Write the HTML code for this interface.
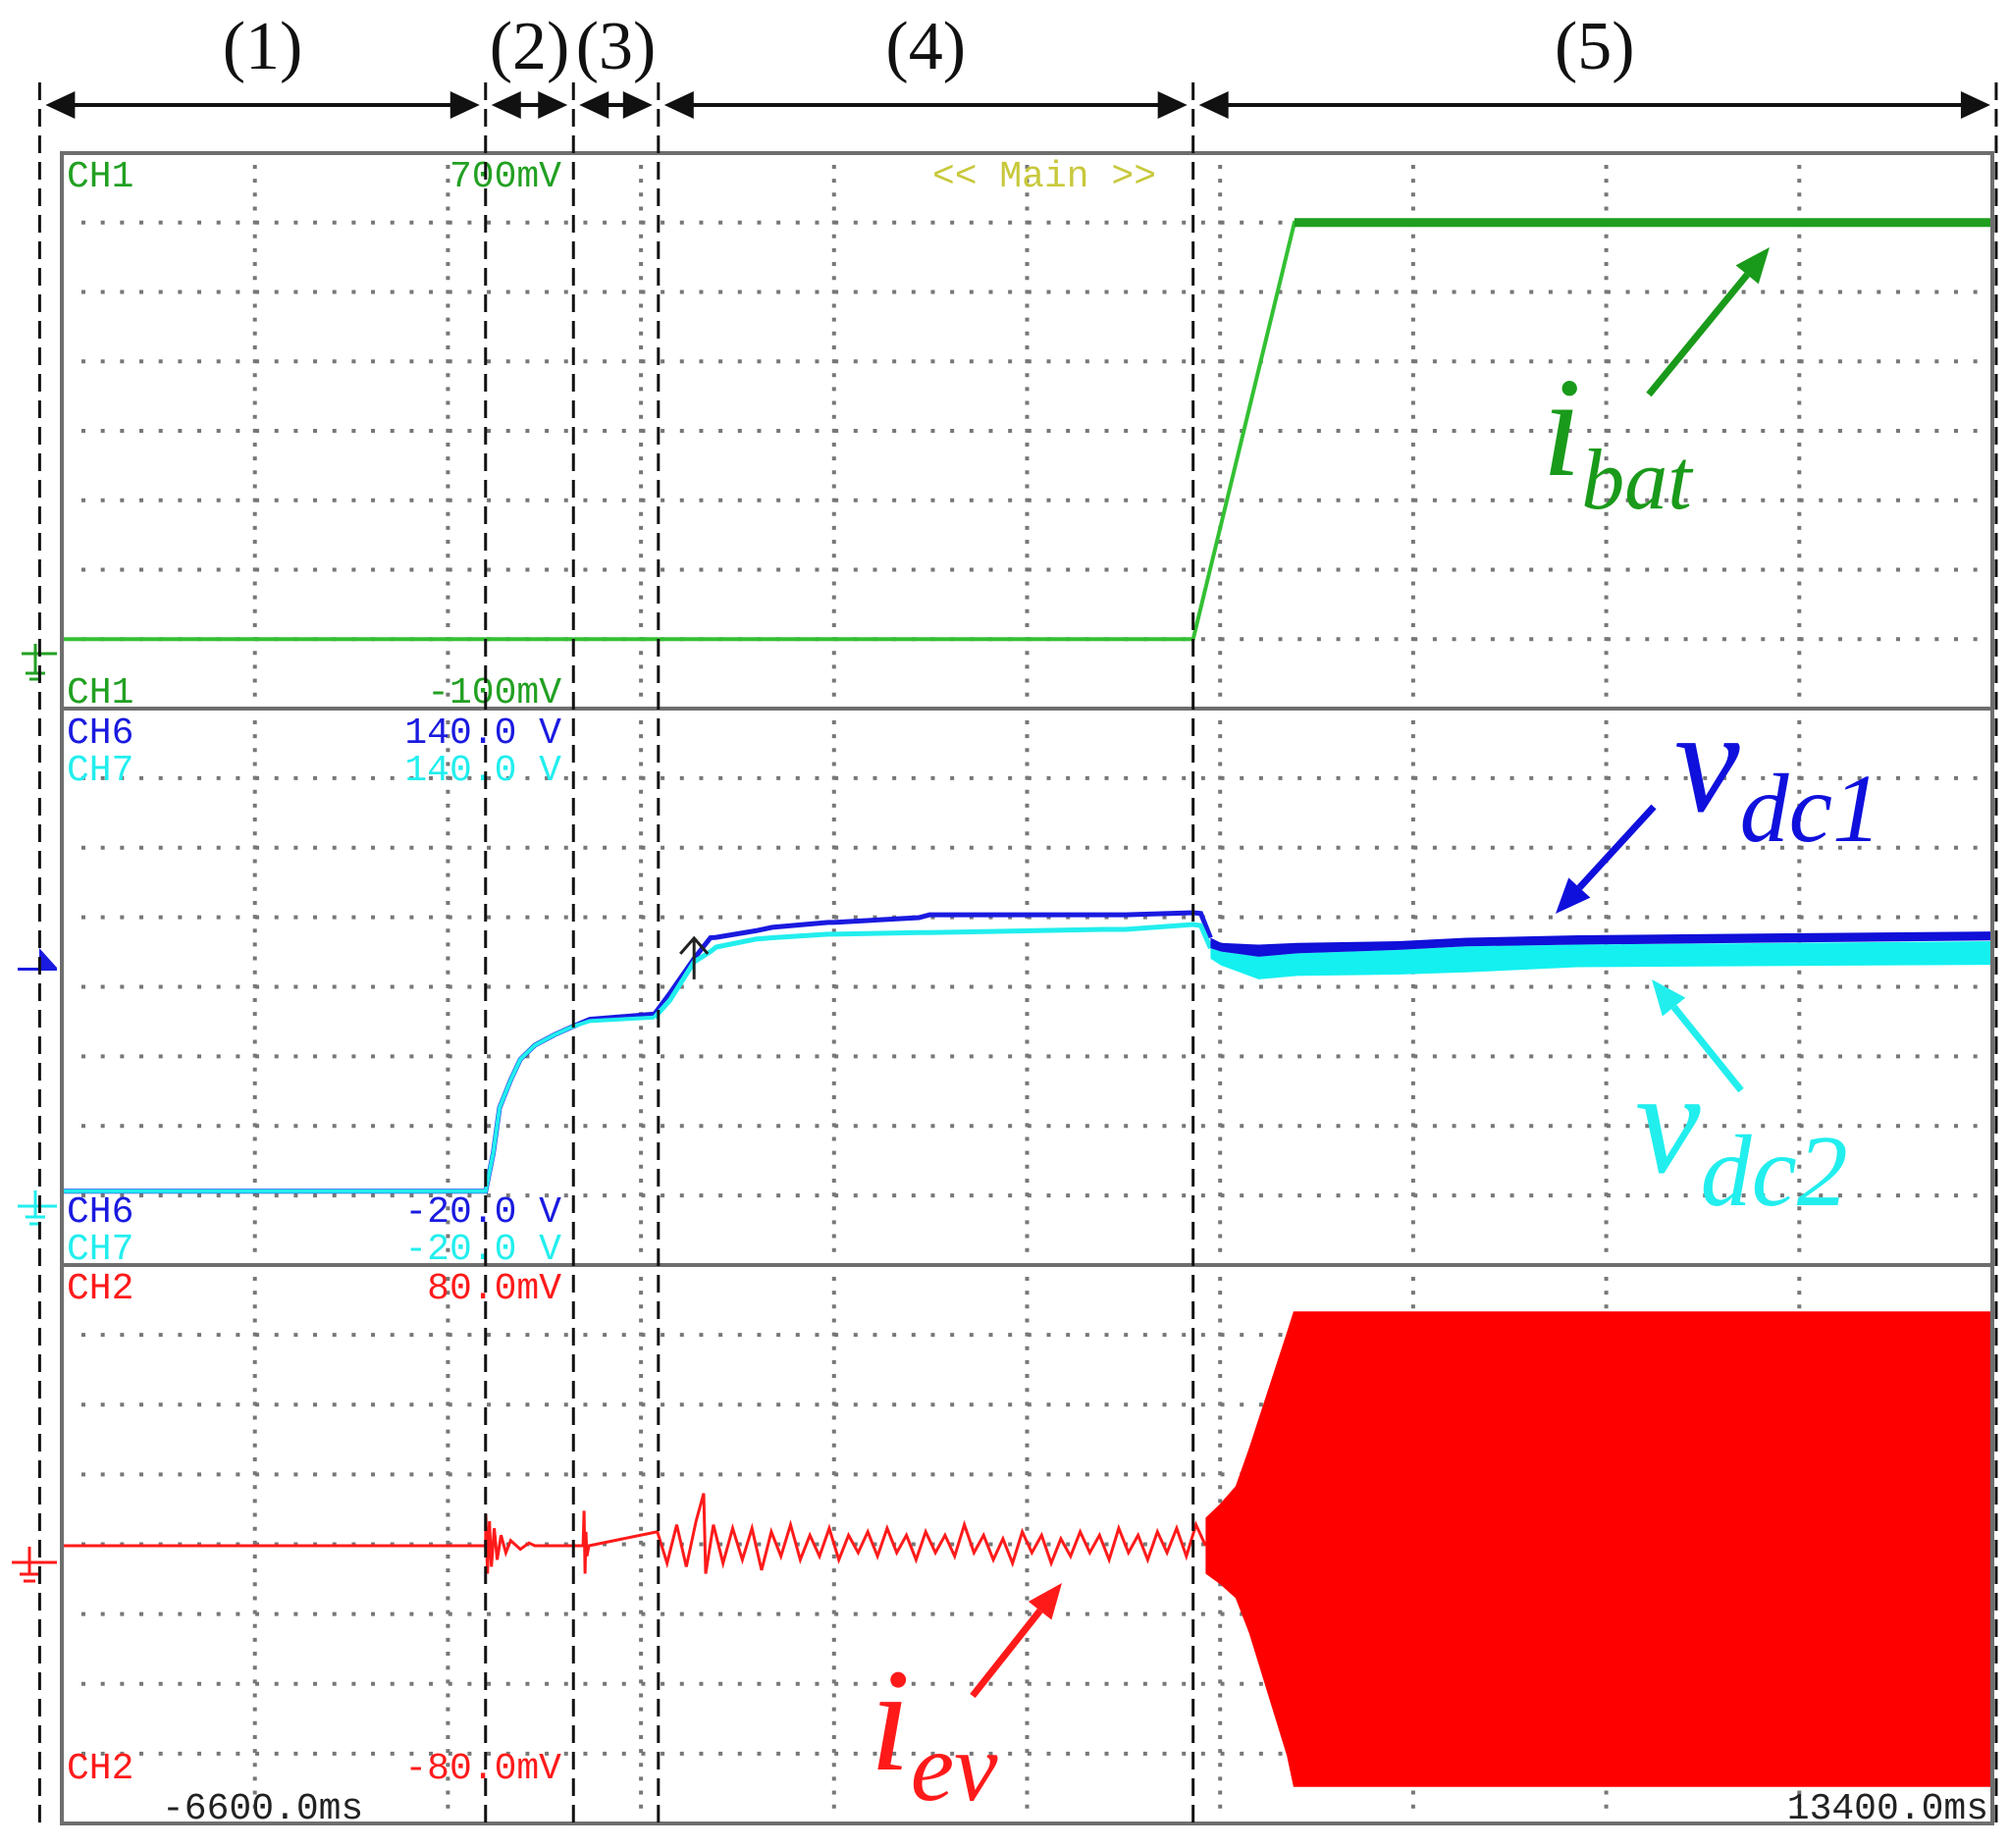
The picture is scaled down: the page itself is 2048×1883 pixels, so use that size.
<!DOCTYPE html>
<html><head><meta charset="utf-8">
<style>
html,body{margin:0;padding:0;background:#fff;}
svg{display:block;}
.mono{font-family:"Liberation Mono",monospace;font-size:38px;}
.lbl{font-family:"Liberation Serif",serif;font-size:70px;fill:#111;}
.it{font-family:"Liberation Serif",serif;font-style:italic;}
</style></head>
<body>
<svg id="chart" width="2048" height="1883" viewBox="0 0 2048 1883" xmlns="http://www.w3.org/2000/svg">
<g id="grid"></g>
<g id="traces"></g>
<g id="frame">
  <rect x="63" y="156" width="1967" height="1702" fill="none" stroke="#6e6e6e" stroke-width="4"/>
  <line x1="63" y1="722" x2="2030" y2="722" stroke="#6e6e6e" stroke-width="4"/>
  <line x1="63" y1="1289" x2="2030" y2="1289" stroke="#6e6e6e" stroke-width="4"/>
</g>
<g id="texts">
  <text class="mono" x="68" y="190" fill="#22a022">CH1</text>
  <text class="mono" x="572" y="190" fill="#22a022" text-anchor="end">700mV</text>
  <text class="mono" x="1064" y="190" fill="#c8c83c" text-anchor="middle">&lt;&lt; Main &gt;&gt;</text>
  <text class="mono" x="68" y="716" fill="#22a022">CH1</text>
  <text class="mono" x="572" y="716" fill="#22a022" text-anchor="end">-100mV</text>
  <text class="mono" x="68" y="757" fill="#1a1ae0">CH6</text>
  <text class="mono" x="572" y="757" fill="#1a1ae0" text-anchor="end">140.0 V</text>
  <text class="mono" x="68" y="795" fill="#22eeee">CH7</text>
  <text class="mono" x="572" y="795" fill="#22eeee" text-anchor="end">140.0 V</text>
  <text class="mono" x="68" y="1245" fill="#1a1ae0">CH6</text>
  <text class="mono" x="572" y="1245" fill="#1a1ae0" text-anchor="end">-20.0 V</text>
  <text class="mono" x="68" y="1283" fill="#22eeee">CH7</text>
  <text class="mono" x="572" y="1283" fill="#22eeee" text-anchor="end">-20.0 V</text>
  <text class="mono" x="68" y="1323" fill="#ff1a1a">CH2</text>
  <text class="mono" x="572" y="1323" fill="#ff1a1a" text-anchor="end">80.0mV</text>
  <text class="mono" x="68" y="1812" fill="#ff1a1a">CH2</text>
  <text class="mono" x="572" y="1812" fill="#ff1a1a" text-anchor="end">-80.0mV</text>
  <text class="mono" x="165" y="1853" fill="#222">-6600.0ms</text>
  <text class="mono" x="2026" y="1853" fill="#222" text-anchor="end">13400.0ms</text>
</g>
<g id="markers">
  <g stroke="#22a022" stroke-width="3"><line x1="22" y1="666" x2="58" y2="666"/><line x1="36" y1="656" x2="36" y2="686"/><line x1="26" y1="686" x2="46" y2="686"/><line x1="30" y1="692" x2="42" y2="692"/></g>
  <polygon points="18,989 58,989 58,986 40,966 40,986 18,986" fill="#1a1ae0"/>
  <g stroke="#22eeee" stroke-width="3"><line x1="18" y1="1229" x2="58" y2="1229"/><line x1="36" y1="1213" x2="36" y2="1240"/><line x1="26" y1="1240" x2="46" y2="1240"/><line x1="30" y1="1247" x2="42" y2="1247"/></g>
  <g stroke="#ff1a1a" stroke-width="3"><line x1="12" y1="1592" x2="58" y2="1592"/><line x1="30" y1="1576" x2="30" y2="1604"/><line x1="20" y1="1604" x2="40" y2="1604"/><line x1="24" y1="1611" x2="36" y2="1611"/></g>
</g>
<g id="phases"></g>
<g id="annot">
  <text class="it" x="1571" y="484" font-size="145" fill="#1a9a1a">i<tspan font-size="88" dy="34">bat</tspan></text>
  <text class="it" x="1706" y="826" font-size="150" fill="#1010dd">v<tspan font-size="100" dy="31">dc1</tspan></text>
  <text class="it" x="1666" y="1194" font-size="150" fill="#22eeee">v<tspan font-size="104" dy="34">dc2</tspan></text>
  <text class="it" x="886" y="1803" font-size="150" fill="#ff1a1a">i<tspan font-size="100" dy="31">ev</tspan></text>
</g>
</svg>
<script>
// ---- data ----
const tMin = -6600, tMax = 13400;
const gridCols = 10;
const ibatT = [-6600, 5120, 6170, 13400];
const ibatV = [0, 0, 600, 600];
const lineT = [-6600,-2210,-2130,-2065,-1950,-1850,-1700,-1500,-1300,-1130,-460,-300,-50,120,180,590,760,1340,1400,2280,2390,4190,4420,5120,5200,5300];
const vdc2 = [1,1,12,25,33,39,43,46,48.5,50,51,56,67,70,71.3,73.6,74,75,75,75.5,75.5,76.4,76.4,77.8,77.5,71];
const vdc1 = [1,1,12,25,33,39,43,46,48.5,50.5,52,58,68,74,74.1,76,77,78.4,78.4,79.8,80.6,80.6,80.6,81.2,81,74];
const bandT = [5300,5410,5800,6200,7250,7950,9100,13400];
const vdc1Top = [74,72.5,72,72.5,73,74,74.7,75.8];
const vdc1Bot = [71,70,68.5,69.5,70.5,71.5,72,73.2];
const vdc2Top = [71,70,68.5,69.5,70.5,71.5,72,73];
const vdc2Bot = [68,66,62,63,63.4,64,65.5,66.2];
const redT = [5250,5400,5560,5700,6090,6160,13400];
const redTop = [8,12,17,28,61,67,67];
const redBot = [-8,-11,-15,-25,-60,-69,-69];
const noiseT = [-6600,-2210,-2208,-2190,-2170,-2150,-2120,-2090,-2050,-2000,-1950,-1850,-1760,-1700,-1200,-1190,-1180,-1170,-1160,-1140,-430,-330,-230,-130,-30,50,70,150,250,350,450,550,650,750,850,950,1050,1150,1250,1350,1450,1550,1650,1750,1850,1950,2050,2150,2250,2350,2450,2550,2650,2750,2850,2950,3050,3150,3250,3350,3450,3550,3650,3750,3850,3950,4050,4150,4250,4350,4450,4550,4650,4750,4850,4950,5050,5150,5250];
const noiseV = [0,0,9,-8,7,-6,5,-4,3,-2,1.5,-1,0.8,0,0,10,-8,4,-3,0,4,-5,6,-6,7,15,-8,6,-5,5,-4,5,-7,4,-3,6,-4,3,-3,5,-4,3,-2,4,-3,5,-2,3,-4,4,-2,3,-3,6,-2,3,-4,2,-5,4,-2,3,-5,2,-3,4,-2,3,-4,5,-2,3,-4,4,-2,5,-3,6,0];
const phaseT = [-6830, -2210, -1300, -420, 5120, 13440];
const phaseNames = ["(1)","(2)","(3)","(4)","(5)"];
// ---- axes ----
const X0 = 63, W = 1967;
const x = t => X0 + (t - tMin) / (tMax - tMin) * W;
const y1 = v => 156 + (700 - v) / 800 * 566;
const y2 = v => 722 + (140 - v) / 160 * 566;
const y3 = v => 1290 + (80 - v) / 160 * 570;
const NS = "http://www.w3.org/2000/svg";
function mk(tag, attrs, parent){const e=document.createElementNS(NS,tag);for(const k in attrs)e.setAttribute(k,attrs[k]);parent.appendChild(e);return e;}
const grid = document.getElementById('grid');
const panels = [[156,722],[722,1289],[1289,1858]];
for (const [top,bot] of panels){
  const dy=(bot-top)/8;
  for(let i=1;i<8;i++){
    const l=mk('line',{x1:X0+20,x2:X0+W-10,y1:top+i*dy,y2:top+i*dy,stroke:'#777','stroke-width':4,'stroke-dasharray':'4 15.67'},grid);
    
    
  }
  for(let j=1;j<gridCols;j++){
    const gx=X0+j*W/gridCols;
    const l=mk('line',{x1:gx,x2:gx,y1:top+12,y2:bot-6,stroke:'#777','stroke-width':4,'stroke-dasharray':'4 10.15'},grid);
    
    
  }
}
const tr = document.getElementById('traces');
const pts=(T,V,fy)=>T.map((t,i)=>x(t).toFixed(1)+','+fy(V[i]).toFixed(1)).join(' ');
let e=mk('polyline',{points:pts(ibatT,ibatV,y1),fill:'none',stroke:'#33c033','stroke-width':4},tr);


e=mk('line',{x1:x(ibatT[2]),x2:x(ibatT[3]),y1:y1(ibatV[2]),y2:y1(ibatV[3]),stroke:'#1f9e1f','stroke-width':9},tr);


e=mk('polyline',{points:pts(lineT,vdc1,y2),fill:'none',stroke:'#1a1ae0','stroke-width':5},tr);


e=mk('polyline',{points:pts(lineT.slice(0,11),vdc2.slice(0,11),y2),fill:'none',stroke:'#22eeee','stroke-width':4},tr);


e=mk('polyline',{points:pts(lineT.slice(10),vdc2.slice(10),y2),fill:'none',stroke:'#22eeee','stroke-width':5},tr);


const band=(T,top,bot,fy)=>pts(T,top,fy)+' '+pts(T.slice().reverse(),bot.slice().reverse(),fy);
e=mk('polygon',{points:band(bandT,vdc2Top,vdc2Bot,y2),fill:'#14f0f0'},tr);


e=mk('polygon',{points:band(bandT,vdc1Top,vdc1Bot,y2),fill:'#1010d8'},tr);


const cx=x(-50), cy=y2(62);
e=mk('path',{d:'M'+cx+' '+cy+' l0 -42 M'+(cx-14)+' '+(cy-26)+' l14 -16 l14 16',fill:'none',stroke:'#222','stroke-width':3},tr);


e=mk('polyline',{points:pts(noiseT,noiseV,y3),fill:'none',stroke:'#ff1a1a','stroke-width':3},tr);


e=mk('polygon',{points:band(redT,redTop,redBot,y3),fill:'#ff0000'},tr);


const ph=document.getElementById('phases');
for(let i=0;i<phaseT.length;i++){
  const px=x(phaseT[i]);
  e=mk('line',{x1:px,x2:px,y1:84,y2:1866,stroke:'#111','stroke-width':3,'stroke-dasharray':'18 9'},ph);
  
  
}
for(let i=0;i<phaseNames.length;i++){
  const a=x(phaseT[i])+6,b=x(phaseT[i+1])-6,yy=107;
  e=mk('line',{x1:a+20,x2:b-20,y1:yy,y2:yy,stroke:'#111','stroke-width':4},ph);
  
  
  e=mk('polygon',{points:`${a},${yy} ${a+30},${yy-14} ${a+30},${yy+14}`,fill:'#111'},ph);
  
  
  e=mk('polygon',{points:`${b},${yy} ${b-30},${yy-14} ${b-30},${yy+14}`,fill:'#111'},ph);
  
  
  const t=mk('text',{x:(a+b)/2,y:70,'text-anchor':'middle',class:'lbl'},ph);
  t.textContent=phaseNames[i];
  
  
}
const an=document.getElementById('annot');
function arrow(ax,ay,bx2,by2,col,name){
  const ang=Math.atan2(by2-ay,bx2-ax),L=36,Wd=15;
  const bx=bx2-L*Math.cos(ang),by=by2-L*Math.sin(ang);
  let l=mk('line',{x1:ax,y1:ay,x2:bx,y2:by,stroke:col,'stroke-width':7},an);
  
  
  const nx=-Math.sin(ang)*Wd,ny=Math.cos(ang)*Wd;
  l=mk('polygon',{points:`${bx2},${by2} ${bx+nx},${by+ny} ${bx-nx},${by-ny}`,fill:col},an);
  
  
}
arrow(1680,402,1803,252,'#1a9a1a','ibat-arrow');
arrow(1685,822,1585,931,'#1010dd','vdc1-arrow');
arrow(1774,1111,1683,998,'#22eeee','vdc2-arrow');
arrow(991,1728,1082,1613,'#ff1a1a','iev-arrow');
</script>
</body></html>
